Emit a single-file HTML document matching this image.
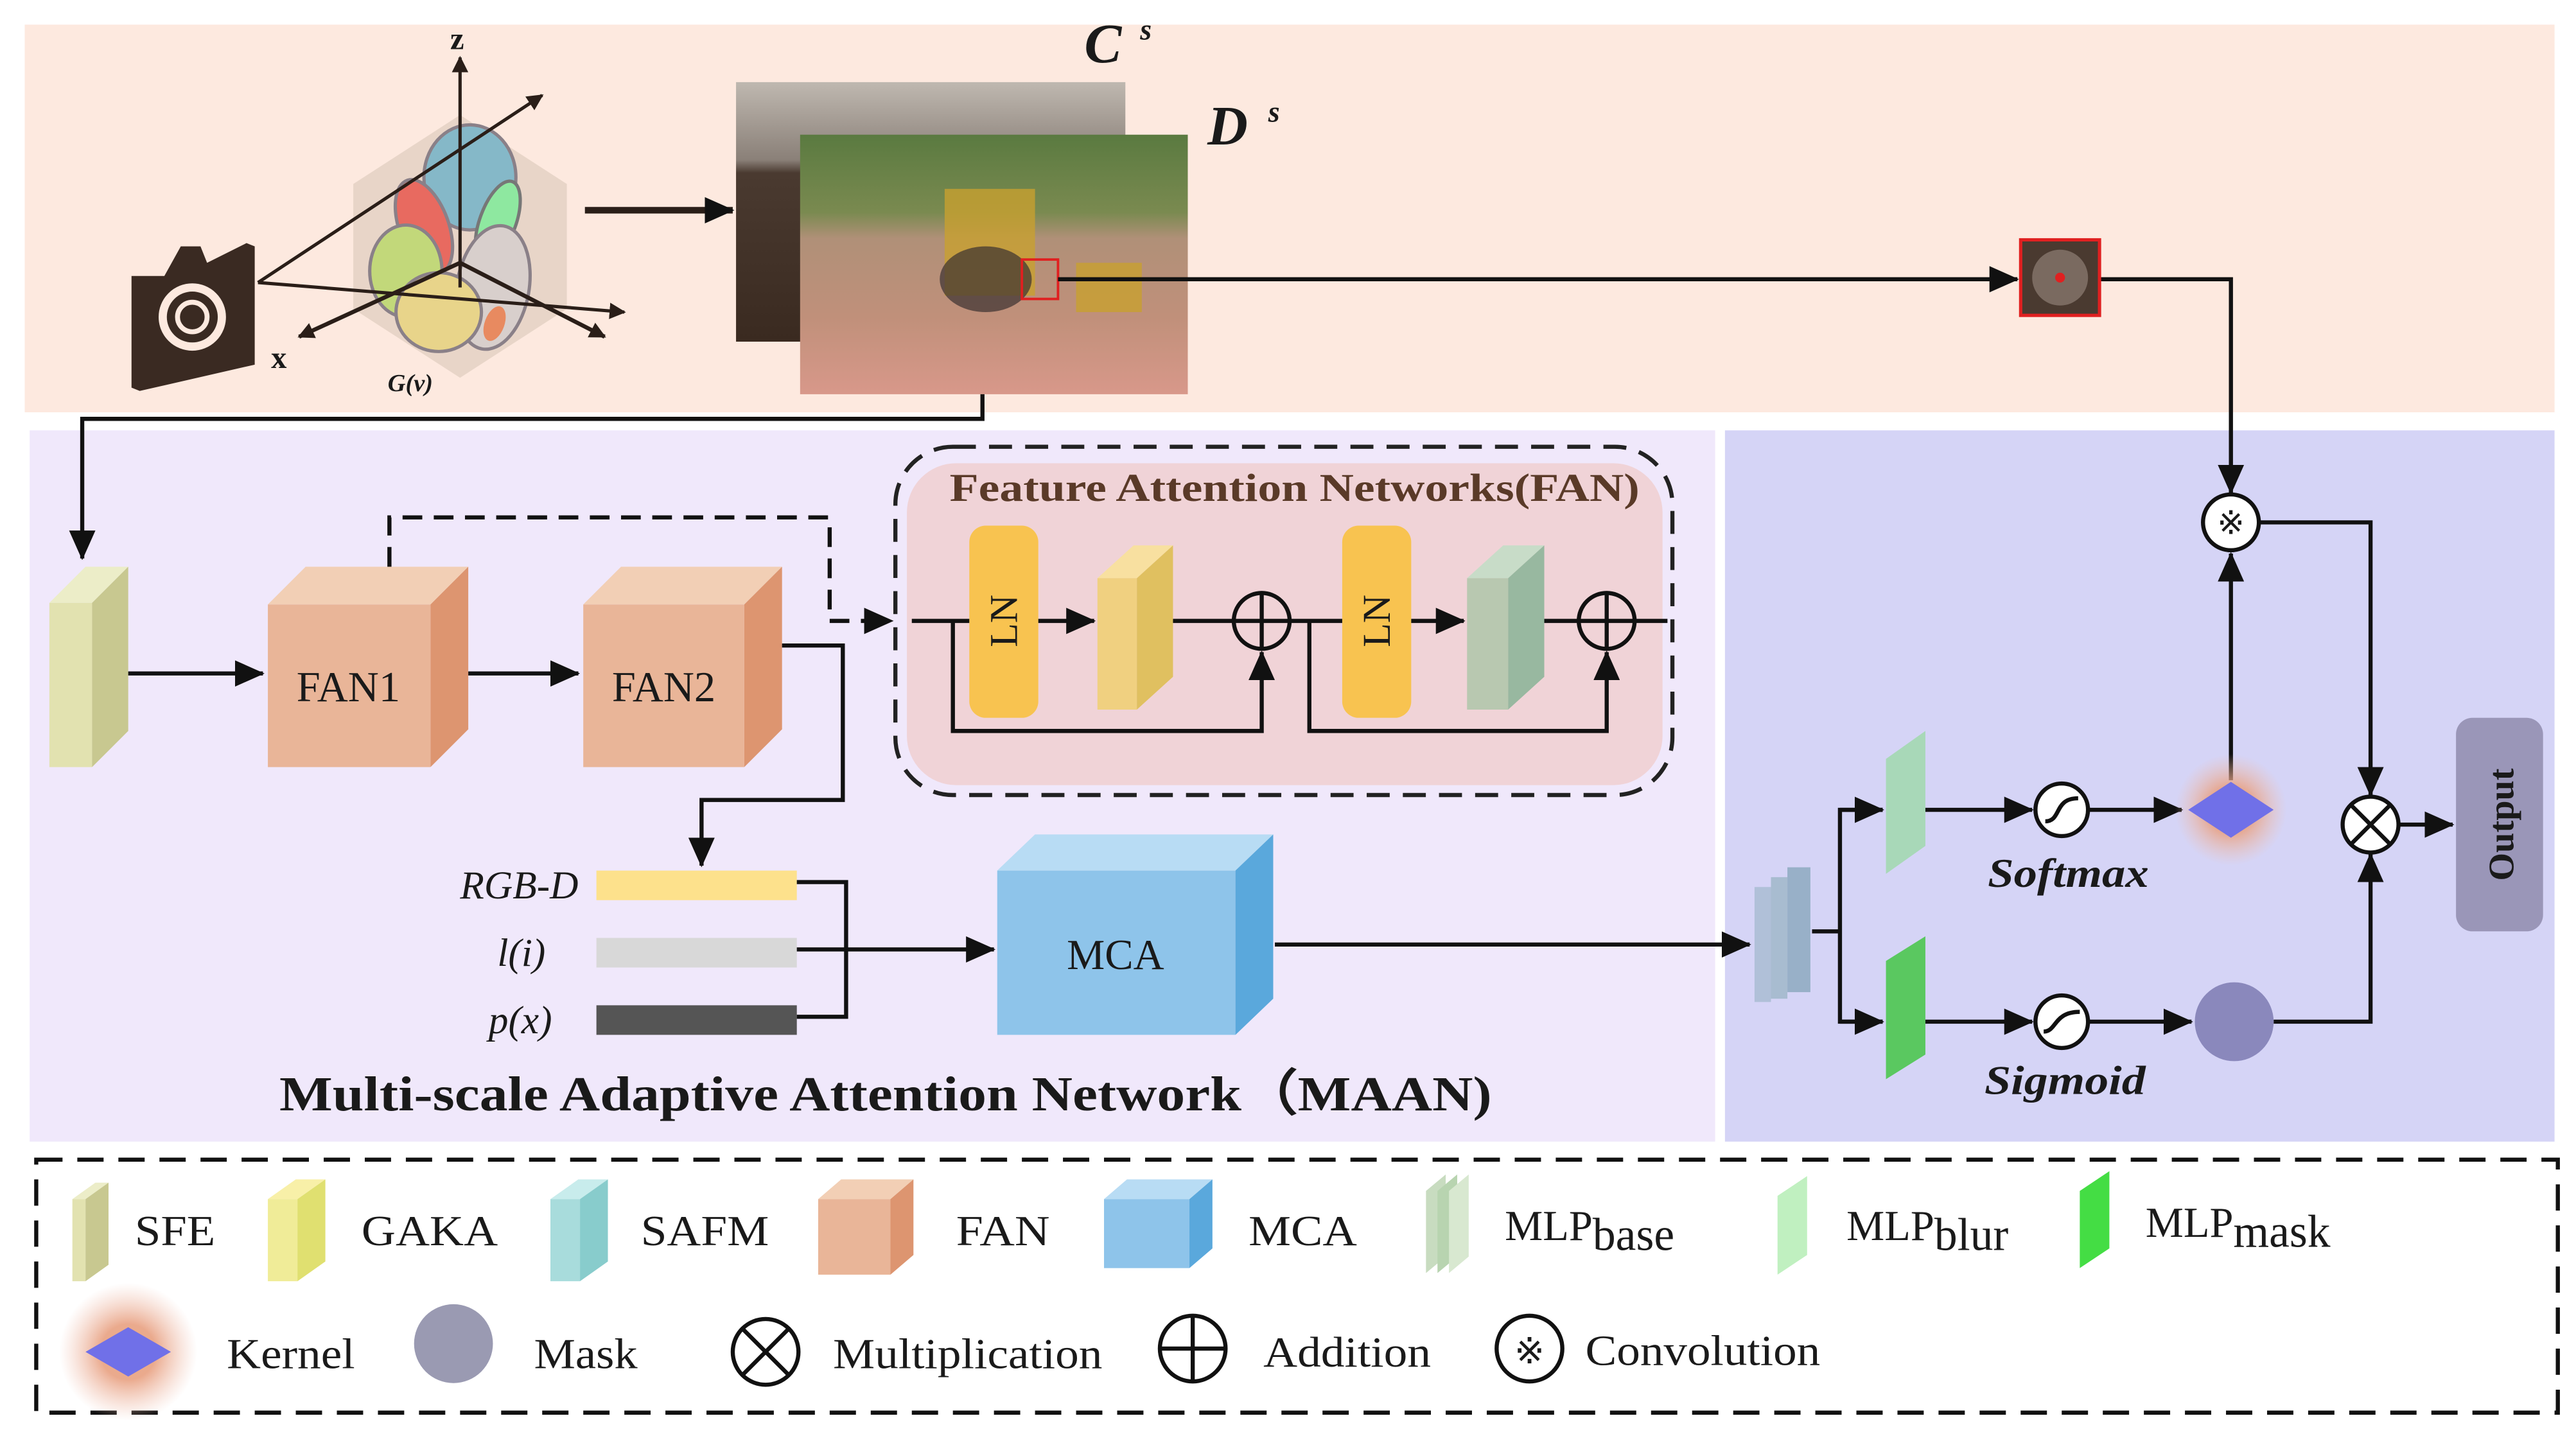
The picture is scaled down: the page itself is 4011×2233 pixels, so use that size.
<!DOCTYPE html>
<html><head><meta charset="utf-8"><style>
html,body{margin:0;padding:0;background:#fff;}
svg{display:block;}
text{font-family:"Liberation Serif",serif;fill:#1a1a1a;}
</style></head><body>
<svg width="4011" height="2233" viewBox="0 0 1568 873" xmlns="http://www.w3.org/2000/svg">
<defs>
<marker id="ah" markerWidth="10" markerHeight="10" refX="9" refY="5" orient="auto" markerUnits="userSpaceOnUse"><path d="M0,0 L10,5 L0,10 Z" fill="#2a1e18"/></marker>
<marker id="ahb" markerWidth="18" markerHeight="16" refX="17" refY="8" orient="auto" markerUnits="userSpaceOnUse"><path d="M0,0 L18,8 L0,16 Z" fill="#111"/></marker>
<radialGradient id="glow"><stop offset="0.4" stop-color="#e8a080" stop-opacity="0.9"/><stop offset="1" stop-color="#f0c0b0" stop-opacity="0"/></radialGradient>
<linearGradient id="cimg" x1="0" y1="0" x2="0" y2="1"><stop offset="0" stop-color="#bfb8b0"/><stop offset="0.3" stop-color="#8a8078"/><stop offset="0.35" stop-color="#4a3a30"/><stop offset="1" stop-color="#3a2a20"/></linearGradient>
<linearGradient id="dimg" x1="0" y1="0" x2="0" y2="1"><stop offset="0" stop-color="#5a7a40"/><stop offset="0.3" stop-color="#7a8a50"/><stop offset="0.4" stop-color="#b09078"/><stop offset="0.7" stop-color="#c0907a"/><stop offset="1" stop-color="#d8988a"/></linearGradient>
</defs>

<rect x="15" y="15" width="1540" height="236" fill="#fde9df"/>
<rect x="18" y="262" width="1026" height="433" fill="#f0e8fb"/>
<rect x="1050" y="262" width="505" height="433" fill="#d5d4f6"/>

<path d="M80,168 L100,168 L110,150 L122,150 L126,160 L150,148 L155,150 L155,222 L85,238 L80,236 Z" fill="#3a2a22"/>
<circle cx="117" cy="193" r="18" fill="none" stroke="#fde9df" stroke-width="5"/>
<circle cx="117" cy="193" r="9" fill="none" stroke="#fde9df" stroke-width="3"/>
<polygon points="280,70 345,112 345,188 280,230 215,188 215,112" fill="#e8d5c8"/>
<ellipse cx="286" cy="108" rx="28" ry="32" fill="#85b8c8" stroke="#8a8088" stroke-width="2"/>
<ellipse cx="258" cy="138" rx="15" ry="30" transform="rotate(-20 258 138)" fill="#e86a60" stroke="#8a8088" stroke-width="2"/>
<ellipse cx="303" cy="135" rx="11" ry="26" transform="rotate(20 303 135)" fill="#8ee8a0" stroke="#777" stroke-width="2"/>
<ellipse cx="247" cy="165" rx="22" ry="28" fill="#c2d87a" stroke="#8a8088" stroke-width="2"/>
<ellipse cx="300" cy="175" rx="22" ry="38" transform="rotate(10 300 175)" fill="#d8cfcc" stroke="#8a8088" stroke-width="2"/>
<ellipse cx="267" cy="190" rx="26" ry="24" fill="#e8d48a" stroke="#8a8088" stroke-width="2"/>
<ellipse cx="301" cy="197" rx="6" ry="11" transform="rotate(20 301 197)" fill="#e88a60"/>
<g stroke="#2a1e18" stroke-width="2" fill="none">
<line x1="280" y1="175" x2="280" y2="35" marker-end="url(#ah)"/>
<line x1="157" y1="172" x2="330" y2="58" marker-end="url(#ah)"/>
<line x1="157" y1="172" x2="380" y2="190" marker-end="url(#ah)"/>
<line x1="280" y1="160" x2="182" y2="205" marker-end="url(#ah)" stroke-width="2.5"/>
<line x1="280" y1="160" x2="368" y2="205" marker-end="url(#ah)" stroke-width="2.5"/>
</g>
<text x="274" y="30" font-size="19" font-weight="bold">z</text>
<text x="165" y="224" font-size="19" font-weight="bold">x</text>
<text x="236" y="238" font-size="15" font-weight="bold" font-style="italic">G(v)</text>
<line x1="356" y1="128" x2="446" y2="128" stroke="#2a1e18" stroke-width="4" marker-end="url(#ahb)"/>
<rect x="448" y="50" width="237" height="158" fill="url(#cimg)"/>
<rect x="487" y="82" width="236" height="158" fill="url(#dimg)"/>
<rect x="575" y="115" width="55" height="65" fill="#c8a030" opacity="0.8"/>
<rect x="655" y="160" width="40" height="30" fill="#c8a030" opacity="0.8"/>
<ellipse cx="600" cy="170" rx="28" ry="20" fill="#3a3030" opacity="0.7"/>
<rect x="622" y="158" width="22" height="24" fill="none" stroke="#e02020" stroke-width="1.5"/>
<text x="660" y="38" font-size="34" font-weight="bold" font-style="italic">C</text>
<text x="694" y="24" font-size="18" font-weight="bold" font-style="italic">s</text>
<text x="735" y="88" font-size="34" font-weight="bold" font-style="italic">D</text>
<text x="772" y="74" font-size="18" font-weight="bold" font-style="italic">s</text>

<g stroke="#111" stroke-width="2.5" fill="none">
<line x1="644" y1="170" x2="1228" y2="170" marker-end="url(#ahb)"/>
<polyline points="1278,170 1358,170 1358,300" marker-end="url(#ahb)"/>
<polyline points="598,240 598,255 50,255 50,340" marker-end="url(#ahb)"/>
</g>
<rect x="1230" y="146" width="48" height="46" fill="#4a3a30" stroke="#e02020" stroke-width="2"/>
<circle cx="1254" cy="169" r="17" fill="#7a6a60"/>
<circle cx="1254" cy="169" r="3" fill="#e02020"/>

<polygon points="30,367 52,345 78,345 56,367" fill="#ecedc8"/>
<rect x="30" y="367" width="26" height="100" fill="#e2e2b0"/>
<polygon points="56,367 78,345 78,445 56,467" fill="#c8c890"/>
<g>
<polygon points="163,368 186,345 285,345 262,368" fill="#f2cfb5"/>
<rect x="163" y="368" width="99" height="99" fill="#e9b598"/>
<polygon points="262,368 285,345 285,444 262,467" fill="#dd9570"/>
<text x="212" y="427" font-size="26" text-anchor="middle">FAN1</text>
<polygon points="355,368 378,345 476,345 453,368" fill="#f2cfb5"/>
<rect x="355" y="368" width="98" height="99" fill="#e9b598"/>
<polygon points="453,368 476,345 476,444 453,467" fill="#dd9570"/>
<text x="404" y="427" font-size="26" text-anchor="middle">FAN2</text>
</g>
<g stroke="#111" stroke-width="2.5" fill="none">
<line x1="78" y1="410" x2="160" y2="410" marker-end="url(#ahb)"/>
<line x1="285" y1="410" x2="352" y2="410" marker-end="url(#ahb)"/>
<polyline points="237,345 237,315 505,315 505,378 543,378" stroke-dasharray="12,7" marker-end="url(#ahb)"/>
<polyline points="476,393 513,393 513,487 427,487 427,527" marker-end="url(#ahb)"/>
</g>

<rect x="552" y="282" width="460" height="196" rx="30" fill="#f0cac8" opacity="0.7"/>
<rect x="545" y="272" width="473" height="212" rx="35" fill="none" stroke="#222" stroke-width="2.5" stroke-dasharray="14,8"/>
<text x="578" y="305" font-size="24" font-weight="bold" textLength="420" lengthAdjust="spacingAndGlyphs" style="fill:#5a3a28">Feature Attention Networks(FAN)</text>
<rect x="590" y="320" width="42" height="117" rx="10" fill="#f8c350"/>
<text transform="translate(619,378) rotate(-90)" font-size="24" text-anchor="middle">LN</text>
<rect x="817" y="320" width="42" height="117" rx="10" fill="#f8c350"/>
<text transform="translate(846,378) rotate(-90)" font-size="24" text-anchor="middle">LN</text>
<polygon points="668,352 690,332 714,332 692,352" fill="#f8e0a0"/>
<rect x="668" y="352" width="24" height="80" fill="#f0d080"/>
<polygon points="692,352 714,332 714,412 692,432" fill="#e0c060"/>
<polygon points="893,352 915,332 940,332 918,352" fill="#c8dcc8"/>
<rect x="893" y="352" width="25" height="80" fill="#b8c8b0"/>
<polygon points="918,352 940,332 940,412 918,432" fill="#98b8a0"/>
<g stroke="#111" stroke-width="2.5" fill="none">
<line x1="555" y1="378" x2="590" y2="378"/>
<line x1="632" y1="378" x2="666" y2="378" marker-end="url(#ahb)"/>
<line x1="714" y1="378" x2="751" y2="378"/>
<line x1="785" y1="378" x2="817" y2="378"/>
<line x1="859" y1="378" x2="891" y2="378" marker-end="url(#ahb)"/>
<line x1="940" y1="378" x2="961" y2="378"/>
<line x1="995" y1="378" x2="1015" y2="378"/>
<polyline points="580,378 580,445 768,445 768,397" marker-end="url(#ahb)"/>
<polyline points="797,378 797,445 978,445 978,397" marker-end="url(#ahb)"/>
<circle cx="768" cy="378" r="17"/><line x1="751" y1="378" x2="785" y2="378"/><line x1="768" y1="361" x2="768" y2="395"/>
<circle cx="978" cy="378" r="17"/><line x1="961" y1="378" x2="995" y2="378"/><line x1="978" y1="361" x2="978" y2="395"/>
</g>

<rect x="363" y="530" width="122" height="18" fill="#fde18c"/>
<rect x="363" y="571" width="122" height="18" fill="#d8d8d8"/>
<rect x="363" y="612" width="122" height="18" fill="#555"/>
<text x="352" y="547" font-size="24" font-style="italic" text-anchor="end">RGB-D</text>
<text x="332" y="588" font-size="24" font-style="italic" text-anchor="end">l(i)</text>
<text x="336" y="629" font-size="24" font-style="italic" text-anchor="end">p(x)</text>
<g stroke="#111" stroke-width="2.5" fill="none">
<polyline points="485,537 515,537 515,619 485,619"/>
<line x1="485" y1="578" x2="605" y2="578" marker-end="url(#ahb)"/>
<line x1="776" y1="575" x2="1065" y2="575" marker-end="url(#ahb)"/>
</g>
<polygon points="607,530 630,508 775,508 752,530" fill="#b8dcf4"/>
<rect x="607" y="530" width="145" height="100" fill="#8ec4ea"/>
<polygon points="752,530 775,508 775,608 752,630" fill="#5aa8dc"/>
<text x="679" y="590" font-size="26" text-anchor="middle">MCA</text>
<text x="170" y="676" font-size="30" font-weight="bold" textLength="738" lengthAdjust="spacingAndGlyphs">Multi-scale Adaptive Attention Network（MAAN)</text>

<g>
<rect x="1068" y="540" width="10" height="70" fill="#b0c0d8"/>
<rect x="1078" y="534" width="10" height="74" fill="#a8bcd0"/>
<rect x="1088" y="528" width="14" height="76" fill="#98b0c8"/>
<polygon points="1148,462 1172,445 1172,515 1148,532" fill="#a8d8b8"/>
<polygon points="1148,585 1172,570 1172,642 1148,657" fill="#5ac860"/>
</g>
<g stroke="#111" stroke-width="2.5" fill="none">
<line x1="1103" y1="567" x2="1120" y2="567"/>
<polyline points="1146,493 1120,493 1120,622 1146,622"/>
<line x1="1120" y1="493" x2="1146" y2="493" marker-end="url(#ahb)"/>
<line x1="1120" y1="622" x2="1146" y2="622" marker-end="url(#ahb)"/>
<line x1="1172" y1="493" x2="1237" y2="493" marker-end="url(#ahb)"/>
<line x1="1271" y1="493" x2="1328" y2="493" marker-end="url(#ahb)"/>
<line x1="1172" y1="622" x2="1237" y2="622" marker-end="url(#ahb)"/>
<line x1="1271" y1="622" x2="1334" y2="622" marker-end="url(#ahb)"/>
<line x1="1358" y1="475" x2="1358" y2="337" marker-end="url(#ahb)"/>
<polyline points="1375,318 1443,318 1443,484" marker-end="url(#ahb)"/>
<polyline points="1384,622 1443,622 1443,520" marker-end="url(#ahb)"/>
<line x1="1460" y1="502" x2="1493" y2="502" marker-end="url(#ahb)"/>
<circle cx="1255" cy="493" r="16" fill="#fff"/><path d="M1245,500 C1255,500 1250,486 1265,486"/>
<circle cx="1255" cy="622" r="16" fill="#fff"/><path d="M1244,628 C1252,628 1250,616 1266,616"/>
<circle cx="1358" cy="318" r="17" fill="#fff"/>
<circle cx="1443" cy="502" r="17" fill="#fff"/><line x1="1431" y1="490" x2="1455" y2="514"/><line x1="1455" y1="490" x2="1431" y2="514"/>
</g>
<text x="1358" y="325" font-size="20" text-anchor="middle">※</text>
<circle cx="1358" cy="493" r="34" fill="url(#glow)"/>
<polygon points="1358,476 1384,493 1358,510 1332,493" fill="#7070e8"/>
<circle cx="1360" cy="622" r="24" fill="#8a88bc"/>
<text x="1210" y="540" font-size="25" font-weight="bold" font-style="italic" textLength="98" lengthAdjust="spacingAndGlyphs">Softmax</text>
<text x="1208" y="666" font-size="25" font-weight="bold" font-style="italic" textLength="98" lengthAdjust="spacingAndGlyphs">Sigmoid</text>
<rect x="1495" y="437" width="53" height="130" rx="10" fill="#9a96b8"/>
<text transform="translate(1530,502) rotate(-90)" font-size="22" font-weight="bold" text-anchor="middle">Output</text>

<rect x="22" y="706" width="1535" height="154" fill="none" stroke="#111" stroke-width="2.5" stroke-dasharray="16,9"/>
<g font-size="26">
<polygon points="44,730 58,720 66,720 52,730" fill="#ecedc8"/><rect x="44" y="730" width="8" height="50" fill="#e2e2b0"/><polygon points="52,730 66,720 66,770 52,780" fill="#c8c890"/>
<text x="82" y="758" textLength="49" lengthAdjust="spacingAndGlyphs">SFE</text>
<polygon points="163,730 180,718 198,718 181,730" fill="#f8f0a8"/><rect x="163" y="730" width="18" height="50" fill="#f0ec98"/><polygon points="181,730 198,718 198,768 181,780" fill="#e0e070"/>
<text x="220" y="758" textLength="83" lengthAdjust="spacingAndGlyphs">GAKA</text>
<polygon points="335,730 352,718 370,718 353,730" fill="#c8ecec"/><rect x="335" y="730" width="18" height="50" fill="#a8dcdc"/><polygon points="353,730 370,718 370,768 353,780" fill="#88cccc"/>
<text x="390" y="758" textLength="78" lengthAdjust="spacingAndGlyphs">SAFM</text>
<polygon points="498,730 512,718 556,718 542,730" fill="#f2cfb5"/><rect x="498" y="730" width="44" height="46" fill="#e9b598"/><polygon points="542,730 556,718 556,764 542,776" fill="#dd9570"/>
<text x="582" y="758" textLength="57" lengthAdjust="spacingAndGlyphs">FAN</text>
<polygon points="672,730 686,718 738,718 724,730" fill="#b8dcf4"/><rect x="672" y="730" width="52" height="42" fill="#8ec4ea"/><polygon points="724,730 738,718 738,760 724,772" fill="#5aa8dc"/>
<text x="760" y="758" textLength="66" lengthAdjust="spacingAndGlyphs">MCA</text>
<polygon points="868,725 880,715 880,765 868,775" fill="#c8dcc0"/><polygon points="875,725 887,715 887,765 875,775" fill="#b8d4b0"/><polygon points="882,725 894,715 894,765 882,775" fill="#d8e8d0"/>
<text x="916" y="755">MLP<tspan font-size="28" dy="6">base</tspan></text>
<polygon points="1082,728 1100,716 1100,764 1082,776" fill="#c0f0c0"/>
<text x="1124" y="755">MLP<tspan font-size="28" dy="6">blur</tspan></text>
<polygon points="1266,725 1284,713 1284,760 1266,772" fill="#44dd44"/>
<text x="1306" y="753">MLP<tspan font-size="28" dy="6">mask</tspan></text>
<circle cx="78" cy="823" r="42" fill="url(#glow)"/>
<polygon points="78,808 104,823 78,838 52,823" fill="#7070e8"/>
<text x="138" y="833" textLength="78" lengthAdjust="spacingAndGlyphs">Kernel</text>
<circle cx="276" cy="818" r="24" fill="#9a9ab2"/>
<text x="325" y="833" textLength="63" lengthAdjust="spacingAndGlyphs">Mask</text>
<g stroke="#111" stroke-width="2.5" fill="none">
<circle cx="466" cy="823" r="20"/><line x1="452" y1="809" x2="480" y2="837"/><line x1="480" y1="809" x2="452" y2="837"/>
<circle cx="726" cy="821" r="20"/><line x1="706" y1="821" x2="746" y2="821"/><line x1="726" y1="801" x2="726" y2="841"/>
<circle cx="931" cy="821" r="20"/>
</g>
<text x="931" y="830" font-size="22" text-anchor="middle">※</text>
<text x="507" y="833" textLength="164" lengthAdjust="spacingAndGlyphs">Multiplication</text>
<text x="769" y="832" textLength="102" lengthAdjust="spacingAndGlyphs">Addition</text>
<text x="965" y="831" textLength="143" lengthAdjust="spacingAndGlyphs">Convolution</text>
</g>
</svg>
</body></html>
